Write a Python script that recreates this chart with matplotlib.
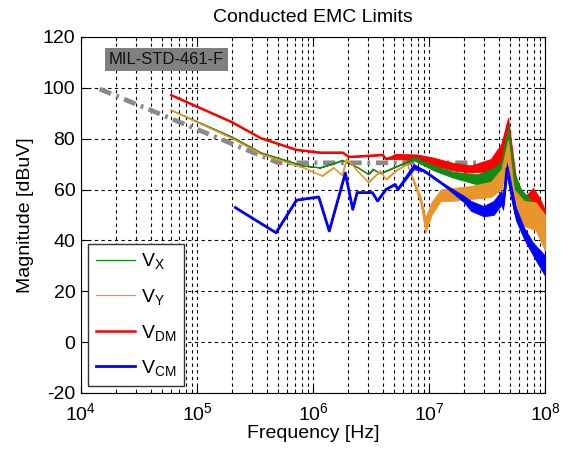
import numpy as np
import matplotlib
matplotlib.use("Agg")
import matplotlib.pyplot as plt
from matplotlib.ticker import LogLocator, NullFormatter, MultipleLocator

plt.rcParams['font.family'] = ['Liberation Sans', 'DejaVu Sans']
plt.rcParams['mathtext.default'] = 'regular'
plt.rcParams['axes.unicode_minus'] = False

# MIL-STD-461-F limit line
lim_f = [1.45e4, 5.0e5, 2.8e7]
lim_v = [99.5, 70.5, 70.5]

# V_X (green): frequency, lower / upper envelope of the trace
vx_f = [6.0e4, 2.0e5, 3.55e5, 8.3e5, 1.15e6, 1.45e6, 1.8e6, 2.45e6, 3.0e6, 3.3e6, 3.8e6,
        5.4e6, 7.4e6, 1.1e7, 1.6e7, 2.6e7, 3.6e7, 4.2e7, 4.8e7, 5.4e7, 6.2e7, 7.9e7, 1e8]
vx_lo = [91.2, 80.7, 74.5, 69.3, 68.6, 70.0, 71.5, 68.6, 66.0, 68.0, 66.3,
         69.3, 71.5, 67.5, 64.7, 62.0, 63.4, 66.0, 79.0, 60.0, 53.0, 48.0, 36.0]
vx_hi = [91.2, 80.7, 74.5, 69.3, 68.6, 70.0, 71.5, 68.6, 66.0, 68.0, 66.3,
         69.3, 72.8, 69.5, 67.0, 66.0, 68.5, 71.0, 85.0, 67.0, 60.0, 55.0, 45.0]

# V_Y (orange)
vy_f = [6.0e4, 2.0e5, 3.55e5, 8.3e5, 1.2e6, 1.5e6, 1.78e6, 1.95e6, 3.0e6, 3.8e6, 4.25e6,
        5.4e6, 6.5e6, 8.5e6, 9.3e6, 1.05e7, 1.26e7, 1.55e7, 2.3e7, 3.4e7, 4.2e7, 4.8e7,
        5.4e7, 6.6e7, 8.3e7, 1e8]
vy_lo = [91.2, 80.2, 74.0, 68.6, 65.4, 68.6, 65.7, 72.0, 62.8, 67.3, 64.0,
         68.0, 70.0, 54.0, 43.0, 50.0, 55.5, 55.5, 56.3, 57.0, 60.0, 72.0,
         53.0, 45.7, 44.0, 36.0]
vy_hi = [91.2, 80.2, 74.0, 68.6, 65.4, 68.6, 65.7, 72.0, 62.8, 67.3, 64.0,
         68.0, 70.0, 57.0, 49.0, 55.0, 60.0, 60.5, 61.4, 63.0, 68.0, 79.5,
         60.0, 55.5, 55.0, 50.0]

# V_DM (red)
vdm_f = [6.0e4, 2.0e5, 3.55e5, 7.2e5, 1.15e6, 1.8e6, 2.05e6, 4.0e6, 4.25e6, 5.1e6,
         7.9e6, 1.1e7, 1.6e7, 2.3e7, 3.4e7, 4.2e7, 4.8e7, 5.1e7, 5.6e7, 6.6e7,
         7.9e7, 8.9e7, 1e8]
vdm_lo = [97.1, 86.5, 80.2, 75.6, 74.5, 74.5, 72.8, 73.6, 72.0, 72.0,
          71.5, 69.5, 67.5, 66.7, 67.3, 70.0, 83.0, 68.6, 55.5, 49.0,
          49.0, 47.0, 38.0]
vdm_hi = [97.1, 86.5, 80.2, 75.6, 74.5, 74.5, 72.8, 73.6, 72.0, 74.0,
          73.8, 72.5, 70.5, 69.5, 72.0, 78.0, 88.3, 79.0, 64.7, 56.8,
          60.6, 57.0, 52.0]

# V_CM (blue)
vcm_f = [2.14e5, 4.8e5, 7.2e5, 1.12e6, 1.38e6, 1.9e6, 2.2e6, 2.4e6, 3.25e6, 3.6e6,
         4.25e6, 5.1e6, 5.4e6, 7.4e6, 9.1e6, 1.26e7, 2.0e7, 2.3e7, 2.95e7, 3.6e7,
         4.2e7, 4.35e7, 4.7e7, 5.1e7, 5.6e7, 6.6e7, 7.9e7, 1e8]
vcm_lo = [52.9, 43.0, 55.8, 57.1, 43.7, 66.5, 52.2, 58.8, 58.8, 55.5,
          60.0, 62.0, 60.0, 68.0, 67.0, 62.5, 55.0, 51.6, 49.5, 50.0,
          54.0, 52.0, 66.0, 57.0, 48.0, 40.5, 34.0, 26.0]
vcm_hi = [52.9, 43.0, 55.8, 57.1, 43.7, 66.5, 52.2, 58.8, 58.8, 55.5,
          60.0, 62.0, 60.0, 70.0, 67.6, 63.0, 57.5, 55.5, 53.5, 55.5,
          59.5, 56.0, 70.6, 62.0, 53.0, 45.0, 39.0, 34.0]

fig = plt.figure(figsize=(5.78, 4.53), dpi=100)
ax = fig.add_axes([0.140, 0.1325, 0.803, 0.786])

ax.plot(lim_f, lim_v, color='#8a8a8a', lw=3.4, dashes=(2.6, 1.2, 0.6, 1.2), zorder=2)

series = [
    ('$V_{X}$', vx_f, vx_lo, vx_hi, '#138a13', 0.9, 4),
    ('$V_{Y}$', vy_f, vy_lo, vy_hi, '#e8962a', 0.9, 5),
    ('$V_{DM}$', vdm_f, vdm_lo, vdm_hi, '#ff0000', 1.8, 3),
    ('$V_{CM}$', vcm_f, vcm_lo, vcm_hi, '#0000ff', 2.0, 6),
]
handles = []
for label, f, lo, hi, col, lw, z in series:
    lo = np.array(lo)
    hi = np.array(hi)
    ax.fill_between(f, lo, hi, color=col, lw=0.6, zorder=z)
    h, = ax.plot(f, (lo + hi) / 2, color=col, lw=lw, zorder=z, label=label)
    handles.append(h)

ax.set_xscale('log')
ax.set_xlim(1e4, 1e8)
ax.set_ylim(-20, 120)
ax.yaxis.set_major_locator(MultipleLocator(20))
ax.xaxis.set_major_locator(LogLocator(base=10))
ax.xaxis.set_minor_locator(LogLocator(base=10, subs=np.arange(2, 10)))
ax.xaxis.set_minor_formatter(NullFormatter())

ax.grid(True, which='major', color='black', linestyle=(0, (3, 3)), lw=0.8)
ax.grid(True, which='minor', axis='x', color='black', linestyle=(0, (3, 3)), lw=0.8)
ax.tick_params(which='both', direction='in', top=True, right=True, labelsize=14)
ax.tick_params(which='major', length=5)
ax.tick_params(axis='x', which='major', pad=7)
ax.tick_params(axis='y', which='major', pad=4)
ax.tick_params(which='minor', length=3)
for s in ax.spines.values():
    s.set_linewidth(0.8)

ax.set_title('Conducted EMC Limits', fontsize=14, pad=11)
ax.set_xlabel('Frequency [Hz]', fontsize=14, labelpad=0)
ax.set_ylabel('Magnitude [dBuV]', fontsize=14, labelpad=6)

ax.text(0.184, 0.937, 'MIL-STD-461-F', transform=ax.transAxes, ha='center', va='center',
        fontsize=12, color='#111111', zorder=10,
        bbox=dict(facecolor='#808080', edgecolor='none', boxstyle='square,pad=0.25'))

leg = ax.legend(handles=handles, loc='lower left', bbox_to_anchor=(0.016, 0.02),
                fontsize=14, fancybox=False, edgecolor='#333333', framealpha=1,
                handlelength=2.0, labelspacing=0.8, borderpad=0.4, handletextpad=0.3,
                borderaxespad=0)
leg.get_frame().set_linewidth(1.0)
leg.set_zorder(20)

fig.savefig('out.png', dpi=100)
